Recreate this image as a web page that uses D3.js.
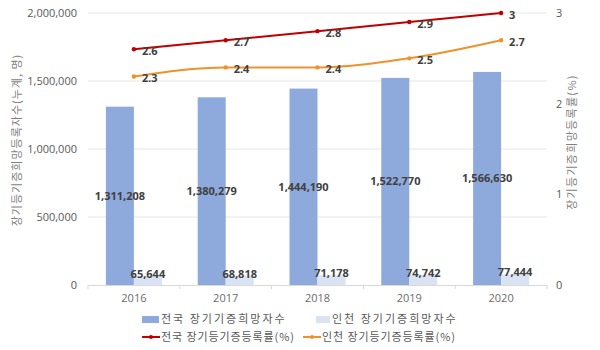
<!DOCTYPE html>
<html><head><meta charset="utf-8">
<script src="https://cdn.jsdelivr.net/npm/d3@7"></script>
<style>body{margin:0;background:#fff}svg{display:block;font-family:"Noto Sans CJK KR","Noto Sans",sans-serif}</style>
</head><body><svg id="c" width="600" height="350"></svg>
<script>
const years = ["2016","2017","2018","2019","2020"];
const nationalDonors = [1311208,1380279,1444190,1522770,1566630];
const incheonDonors = [65644,68818,71178,74742,77444];
const nationalRate = [2.6,2.7,2.8,2.9,3];
const incheonRate = [2.3,2.4,2.4,2.5,2.7];
const leftTicks = [0,500000,1000000,1500000,2000000];
const rightTicks = [0,1,2,3];

const svg = d3.select("#c");
const x = d3.scaleBand().domain(years).range([88,547]);
const yL = d3.scaleLinear().domain([0,2000000]).range([285,13]);
const yR = d3.scaleLinear().domain([0,3]).range([285,13]);
const fmt = d3.format(",");
const cBlue="#8EA9DB", cLight="#DAE3F3", cRed="#C00000", cOrange="#F0922B";
const barW = 28;
const numFont = "'Open Sans','Noto Sans',sans-serif";

// gridlines
svg.append("g").selectAll("line").data(leftTicks.slice(1)).join("line")
  .attr("x1",88).attr("x2",547).attr("y1",d=>yL(d)).attr("y2",d=>yL(d))
  .attr("stroke","#e6e6e6").attr("stroke-width",1);

// left axis
const gl = svg.append("g").attr("transform","translate(88,0)")
  .call(d3.axisLeft(yL).tickValues(leftTicks).tickFormat(fmt).tickSize(0).tickPadding(11));
gl.select(".domain").remove();
gl.selectAll("text").attr("fill","#595959").style("font-size","11px").style("font-family",numFont);

// right axis
const gr = svg.append("g").attr("transform","translate(547,0)")
  .call(d3.axisRight(yR).tickValues(rightTicks).tickFormat(d3.format("d")).tickSize(0).tickPadding(9));
gr.select(".domain").remove();
gr.selectAll("text").attr("fill","#595959").style("font-size","11px").style("font-family",numFont);

// x axis
const gx = svg.append("g").attr("transform","translate(0,285)")
  .call(d3.axisBottom(x).tickSize(0).tickPadding(9));
gx.select(".domain").attr("stroke","#d9d9d9");
gx.selectAll("text").attr("fill","#6b6b6b").style("font-size","11px").style("font-family",numFont);
svg.append("g").selectAll("line").data(years.concat(["end"])).join("line")
  .attr("x1",(d,i)=>88+i*x.step()).attr("x2",(d,i)=>88+i*x.step())
  .attr("y1",285).attr("y2",289).attr("stroke","#d9d9d9");

// bars
const cx = d => x(d)+x.bandwidth()/2;
svg.append("g").selectAll("rect").data(years).join("rect")
  .attr("x",d=>cx(d)-barW).attr("width",barW)
  .attr("y",(d,i)=>yL(nationalDonors[i])).attr("height",(d,i)=>yL(0)-yL(nationalDonors[i]))
  .attr("fill",cBlue);
svg.append("g").selectAll("rect").data(years).join("rect")
  .attr("x",d=>cx(d)).attr("width",barW)
  .attr("y",(d,i)=>yL(incheonDonors[i])).attr("height",(d,i)=>yL(0)-yL(incheonDonors[i]))
  .attr("fill",cLight);

const labStyle = s => s.attr("fill","#404040").style("font-size","11px").style("font-weight","bold")
  .style("font-family",numFont);
svg.append("g").selectAll("text").data(years).join("text")
  .attr("x",d=>cx(d)-barW/2).attr("y",(d,i)=>(yL(nationalDonors[i])+yL(0))/2)
  .attr("text-anchor","middle").attr("dy","0.35em").text((d,i)=>fmt(nationalDonors[i])).call(labStyle);
svg.append("g").selectAll("text").data(years).join("text")
  .attr("x",d=>cx(d)+barW/2).attr("y",(d,i)=>yL(incheonDonors[i])+2)
  .attr("text-anchor","middle").text((d,i)=>fmt(incheonDonors[i])).call(labStyle);

// lines
function drawLine(vals,color){
  const line = d3.line().x((d,i)=>cx(years[i])).y(d=>yR(d)).curve(d3.curveMonotoneX);
  svg.append("path").datum(vals).attr("d",line).attr("fill","none").attr("stroke",color).attr("stroke-width",2);
  svg.append("g").selectAll("circle").data(vals).join("circle")
    .attr("cx",(d,i)=>cx(years[i])).attr("cy",d=>yR(d)).attr("r",2.2).attr("fill",color);
  svg.append("g").selectAll("text").data(vals).join("text")
    .attr("x",(d,i)=>cx(years[i])+8).attr("y",d=>yR(d)+2).attr("dy","0.35em")
    .text(d=>d).call(labStyle);
}
drawLine(nationalRate,cRed);
drawLine(incheonRate,cOrange);

// axis titles
svg.append("text").attr("transform","translate(21,140) rotate(-90)").attr("text-anchor","middle")
  .attr("fill","#7f7f7f").style("font-size","11px").style("letter-spacing","1px").text("장기등기증희망등록자수(누계, 명)");
svg.append("text").attr("transform","translate(576,142) rotate(-90)").attr("text-anchor","middle")
  .attr("fill","#7f7f7f").style("font-size","11px").style("letter-spacing","1.3px").text("장기등기증희망등록률(%)");

// legend
const lg = svg.append("g").style("font-size","11px").style("letter-spacing","2px").attr("fill","#595959");
lg.append("rect").attr("x",142).attr("y",316).attr("width",17).attr("height",7).attr("fill",cBlue);
lg.append("text").attr("x",161).attr("y",323).text("전국 장기기증희망자수");
lg.append("rect").attr("x",316).attr("y",316).attr("width",14).attr("height",7).attr("fill",cLight);
lg.append("text").attr("x",332).attr("y",323).text("인천 장기기증희망자수");
lg.append("line").attr("x1",142).attr("x2",160).attr("y1",337).attr("y2",337).attr("stroke",cRed).attr("stroke-width",2);
lg.append("circle").attr("cx",151).attr("cy",337).attr("r",2).attr("fill",cRed);
lg.append("text").attr("x",161).attr("y",341).style("letter-spacing","0.9px").text("전국 장기등기증등록률(%)");
lg.append("line").attr("x1",303).attr("x2",321).attr("y1",337).attr("y2",337).attr("stroke",cOrange).attr("stroke-width",2);
lg.append("circle").attr("cx",312).attr("cy",337).attr("r",2).attr("fill",cOrange);
lg.append("text").attr("x",322).attr("y",341).style("letter-spacing","0.9px").text("인천 장기등기증등록률(%)");
</script></body></html>
